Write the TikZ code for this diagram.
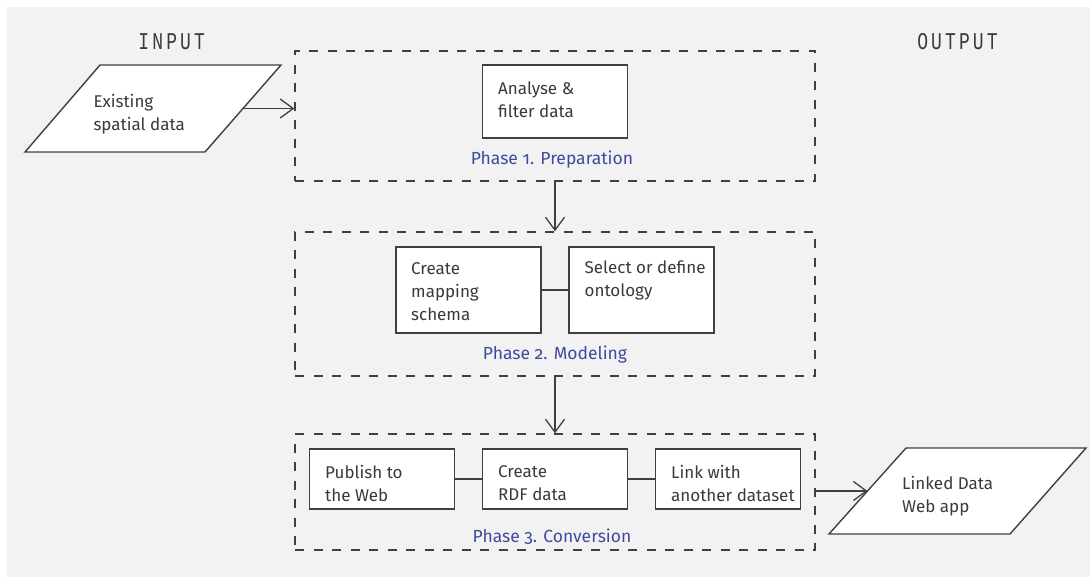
\documentclass[tikz,border=0pt]{standalone}
\usepackage{fontspec}
\setmainfont{Fira Sans}
\newfontfamily\phasefont[Numbers=OldStyle]{Fira Sans}
\newfontfamily\iofont[FakeStretch=0.75,LetterSpace=13]{Liberation Mono}
\usetikzlibrary{arrows.meta,calc}
\definecolor{bg}{HTML}{F2F2F2}
\definecolor{ink}{HTML}{3A3A3A}
\definecolor{edge}{HTML}{404040}
\definecolor{phaseblue}{RGB}{62,74,158}
\begin{document}
\begin{tikzpicture}[x=1pt,y=-1pt,
  stepbox/.style={draw=edge, line width=1.4pt, fill=white, rectangle, inner sep=0pt, minimum width=145pt},
  btext/.style={font=\fontsize{17}{23}\selectfont, text=ink, align=left, inner sep=0pt, anchor=west},
  phasebox/.style={draw=edge, line width=1.4pt, dash pattern=on 9pt off 9.5pt, rectangle, inner sep=0pt, minimum width=520pt},
  phaselabel/.style={font=\phasefont\fontsize{17.5}{20}\selectfont, text=phaseblue, inner sep=0pt},
  iolabel/.style={font=\iofont\fontsize{24}{26}\selectfont, text=ink, inner sep=0pt},
  arr/.style={draw=edge, line width=1.3pt, -{Straight Barb[length=13pt,width=19pt]}},
  link/.style={draw=edge, line width=1.3pt},
  io/.style={draw=edge, line width=1.4pt, fill=white, line join=miter}
]
\useasboundingbox (0,0) rectangle (1090,577);
\fill[bg] (7,7) rectangle (1090,577);

% column headings
\node[iolabel] (inlab) at (171.7,41.7) {INPUT};
\node[iolabel] (outlab) at (957.5,42) {OUTPUT};

% phase frames
\node[phasebox, minimum height=130pt] (p1) at (555,116) {};
\node[phasebox, minimum height=144pt] (p2) at (555,304) {};
\node[phasebox, minimum height=116pt] (p3) at (555,492) {};

% phase 1
\node[stepbox, minimum height=73pt] (a1) at (555,101.5) {};
\node[btext] (ta1) at (498,99.5) {Analyse \&\\filter data};
\node[phaselabel] (l1) at (552,159.3) {Phase 1. Preparation};

% phase 2
\node[stepbox, minimum height=86pt] (b1) at (468.5,290) {};
\node[stepbox, minimum height=86pt] (b2) at (641.5,290) {};
\node[btext] (tb1) at (411,291.6) {Create\\mapping\\schema};
\node[btext] (tb2) at (584.5,280.5) {Select or define\\ontology};
\node[phaselabel] (l2) at (555,355) {Phase 2. Modeling};

% phase 3
\node[stepbox, minimum height=60pt] (c1) at (382,479) {};
\node[stepbox, minimum height=60pt] (c2) at (555,479) {};
\node[stepbox, minimum height=60pt] (c3) at (728,479) {};
\node[btext] (tc1) at (325,483.5) {Publish to\\the Web};
\node[btext] (tc2) at (498,483.5) {Create\\RDF data};
\node[btext] (tc3) at (671,483.5) {Link with\\another dataset};
\node[phaselabel] (l3) at (552,537) {Phase 3. Conversion};

% links inside phases
\draw[link] (b1.east) -- (b2.west);
\draw[link] (c1.east) -- (c2.west);
\draw[link] (c2.east) -- (c3.west);

% input parallelogram
\coordinate (i1) at (100,65);
\coordinate (i2) at (281,65);
\coordinate (i3) at (205,152);
\coordinate (i4) at (25,152);
\draw[io] (i1) -- (i2) -- (i3) -- (i4) -- cycle;
\node[btext] (tin) at (93.3,113.9) {Existing\\spatial data};
\coordinate (imid) at ($(i2)!0.5!(i3)$);

% output parallelogram
\coordinate (o1) at (906,448);
\coordinate (o2) at (1086,448);
\coordinate (o3) at (1010,534);
\coordinate (o4) at (829,534);
\draw[io] (o1) -- (o2) -- (o3) -- (o4) -- cycle;
\node[btext] (tout) at (902,496.5) {Linked Data\\Web app};
\coordinate (omid) at ($(o1)!0.5!(o4)$);

% flow arrows
\draw[arr] (imid) -- (imid -| p1.west);
\draw[arr] (p1.south) -- (p2.north);
\draw[arr] (p2.south) -- (p3.north);
\draw[arr] (omid -| p3.east) -- (omid);
\end{tikzpicture}
\end{document}
